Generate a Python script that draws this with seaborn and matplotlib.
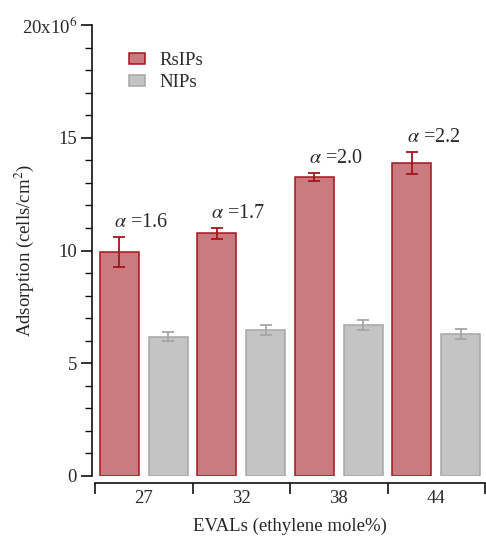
import numpy as np
import pandas as pd
import matplotlib
matplotlib.use("Agg")
import matplotlib.pyplot as plt
from matplotlib.patches import Patch
from matplotlib.ticker import FixedLocator, MultipleLocator
import seaborn as sns

categories = ["27", "32", "38", "44"]
rsip_mean = [9.93, 10.76, 13.26, 13.87]
rsip_err = [0.65, 0.25, 0.16, 0.48]
nip_mean = [6.18, 6.46, 6.68, 6.31]
nip_err = [0.20, 0.22, 0.22, 0.22]
alpha_labels = ["1.6", "1.7", "2.0", "2.2"]
series = ["RsIPs", "NIPs"]
ytick_vals = [0, 5, 10, 15, 20]
ytick_labels = ["0", "5", "10", "15", r"20x10$^{6}$"]

sns.set_style("white")
plt.rcParams["font.family"] = ["Liberation Serif", "DejaVu Serif"]
plt.rcParams["mathtext.fontset"] = "stix"
plt.rcParams["text.color"] = "#2a2a2a"

FS = 13.5
face = {"RsIPs": "#C97B80", "NIPs": "#C4C4C4"}
edge = {"RsIPs": "#A3161C", "NIPs": "#A6A6A6"}

df = pd.DataFrame({
    "EVAL": categories * 2,
    "value": rsip_mean + nip_mean,
    "type": ["RsIPs"] * 4 + ["NIPs"] * 4,
})
errs = {"RsIPs": rsip_err, "NIPs": nip_err}

fig = plt.figure(figsize=(4.86, 5.36), dpi=100)
ax = fig.add_axes([95 / 486, 1 - 476 / 536, 390 / 486, 451 / 536])
sns.barplot(data=df, x="EVAL", y="value", hue="type", hue_order=series,
            palette=[face[s] for s in series], width=1.0, gap=0.2,
            errorbar=None, legend=False, ax=ax, saturation=1)

for cont, s in zip(ax.containers, series):
    xs = []
    for p in cont.patches:
        p.set_edgecolor(edge[s])
        p.set_linewidth(1.1)
        xs.append(p.get_x() + p.get_width() / 2)
    vals = rsip_mean if s == "RsIPs" else nip_mean
    ax.errorbar(xs, vals, yerr=errs[s], fmt="none", ecolor=edge[s],
                elinewidth=1.3, capsize=4.5, capthick=1.3, zorder=5)
    if s == "RsIPs":
        for x, v, e, a in zip(xs, vals, errs[s], alpha_labels):
            ax.text(x + 0.22, v + e + 0.65, r"$\alpha$ =" + a, ha="center",
                    va="center", fontsize=14.5, color="#2a2a2a")

ax.set_xlim(-0.5, 3.5)
ax.set_ylim(0, 20)
for sp in ["top", "right"]:
    ax.spines[sp].set_visible(False)
ax.spines["left"].set_position(("outward", 2))
ax.spines["bottom"].set_position(("outward", 5))
for sp in ["left", "bottom"]:
    ax.spines[sp].set_color("#111111")
    ax.spines[sp].set_linewidth(1.2)

ax.yaxis.set_major_locator(FixedLocator(ytick_vals))
ax.set_yticklabels(ytick_labels)
ax.yaxis.set_minor_locator(MultipleLocator(1))
ax.tick_params(axis="y", which="major", direction="out", length=8, width=1.2,
               labelsize=FS, left=True, pad=3, color="#111111",
               labelcolor="#2a2a2a")
ax.tick_params(axis="y", which="minor", direction="out", length=5, width=1.0,
               left=True, color="#111111")

ax.xaxis.set_major_locator(FixedLocator([-0.5, 0.5, 1.5, 2.5, 3.5]))
ax.xaxis.set_minor_locator(FixedLocator([0, 1, 2, 3]))
ax.set_xticklabels([], minor=False)
ax.set_xticklabels(categories, minor=True)
ax.tick_params(axis="x", which="major", direction="out", length=8, width=1.2,
               bottom=True, color="#111111")
ax.tick_params(axis="x", which="minor", length=0, labelsize=FS, pad=5,
               bottom=True, labelcolor="#2a2a2a")

ax.set_xlabel("EVALs (ethylene mole%)", fontsize=FS, labelpad=8)
ax.set_ylabel("Adsorption (cells/cm$^{2}$)", fontsize=FS)
ax.yaxis.set_label_coords(-0.15, 0.5)

handles = [Patch(facecolor=face[s], edgecolor=edge[s], linewidth=1.1, label=s)
           for s in series]
ax.legend(handles=handles, loc="upper left", bbox_to_anchor=(0.087, 0.94),
          frameon=False, fontsize=FS, handlelength=0.85, handleheight=0.55,
          handletextpad=0.8, labelspacing=0.28, borderpad=0, borderaxespad=0)

fig.savefig("out.png", dpi=100)
